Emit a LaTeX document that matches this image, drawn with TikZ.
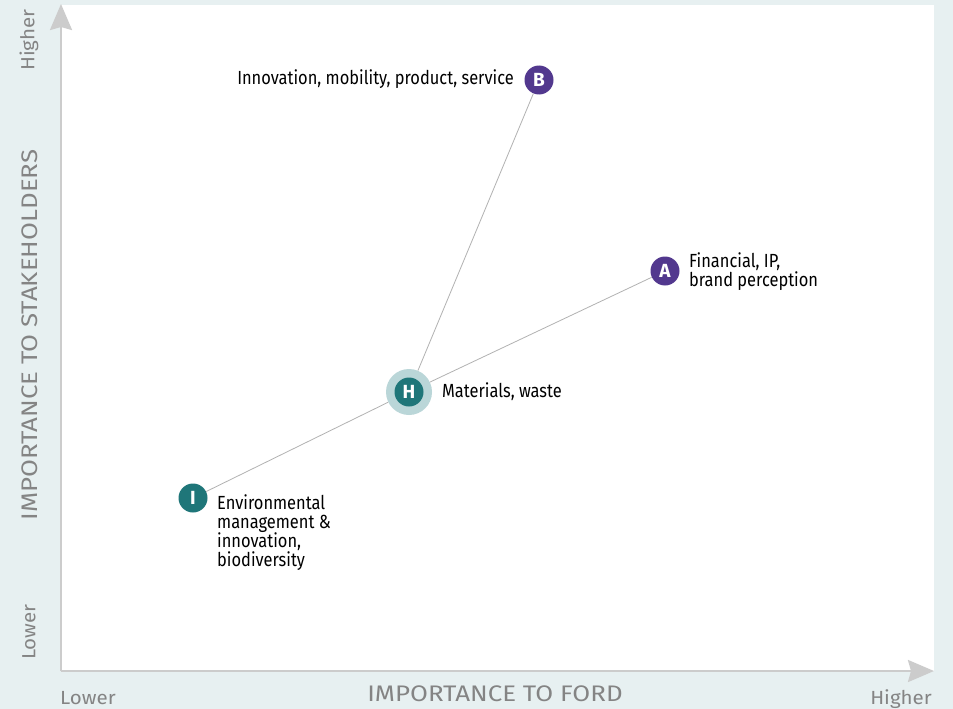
\documentclass[tikz,border=0pt]{standalone}
\usepackage{fontspec}
\setmainfont{Fira Sans}[FakeStretch=0.865]
\newfontfamily\axfont{Fira Sans}[FakeStretch=1.15]
\newfontfamily\endfont{Fira Sans}[FakeStretch=1.08]
\newfontfamily\dotfont{Fira Sans}
\usetikzlibrary{arrows.meta}
\definecolor{bgc}{RGB}{231,240,241}
\definecolor{axisc}{RGB}{204,204,204}
\definecolor{purpc}{RGB}{82,56,142}
\definecolor{tealc}{RGB}{31,118,121}
\definecolor{haloc}{RGB}{186,214,216}
\definecolor{connc}{RGB}{178,178,178}
\definecolor{axtext}{RGB}{132,132,132}
\tikzset{
  axisline/.style={draw=axisc, line width=2.4pt, -{Stealth[length=26pt,width=22pt,inset=3pt]}},
  conn/.style={draw=connc, line width=0.8pt},
  dot/.style={circle, minimum size=29pt, inner sep=0pt, text=white, font=\dotfont\bfseries\fontsize{19}{19}\selectfont},
  pdot/.style={dot, fill=purpc},
  tdot/.style={dot, fill=tealc},
  halo/.style={circle, fill=haloc, minimum size=46pt, inner sep=0pt},
  lbl/.style={inner sep=0pt, text=black, font=\fontsize{19}{19}\selectfont},
  axlbl/.style={inner sep=0pt, text=axtext, font=\axfont\fontsize{22.5}{22.5}\selectfont},
  endlbl/.style={inner sep=0pt, text=axtext, font=\endfont\fontsize{19}{19}\selectfont}
}
\begin{document}
\begin{tikzpicture}[x=1pt,y=-1pt]
\fill[bgc] (0,0) rectangle (953,709);
\fill[white] (61,5) rectangle (934,671);
\coordinate (O) at (61,671);
\coordinate (Ytop) at (61,4);
\coordinate (Xend) at (934,671);
\draw[axisline] (O) -- (Ytop);
\draw[axisline] (O) -- (Xend);
% nodes
\node[halo] (Hh) at (409,392) {};
\node[tdot] (H) at (409,392) {H};
\node[pdot] (B) at (539,80) {B};
\node[pdot] (A) at (665,271) {A};
\node[tdot] (I) at (193,498) {I};
% connectors
\draw[conn] (Hh) -- (B);
\draw[conn] (Hh) -- (A);
\draw[conn] (Hh) -- (I);
% labels
\node[lbl, anchor=east] (Bl) at (514,79) {Innovation, mobility, product, service};
\node[lbl, anchor=west, align=left] (Al) at (689,272) {Financial, IP,\\brand perception};
\node[lbl, anchor=west] (Hl) at (442,392) {Materials, waste};
\node[lbl, anchor=north west, align=left] (Il) at (217,494) {Environmental\\management \&\\innovation,\\biodiversity};
% axis labels
\node[axlbl, anchor=base] (xl) at (495,701) {IMPORTANCE TO FORD};
\node[axlbl, rotate=90, anchor=center] (yl) at (30,335) {IMPORTANCE TO STAKEHOLDERS};
\node[endlbl, anchor=base west] (xlo) at (60,704) {Lower};
\node[endlbl, anchor=base east] (xhi) at (932,704) {Higher};
\node[endlbl, rotate=90, anchor=center] (yhi) at (29,40) {Higher};
\node[endlbl, rotate=90, anchor=center] (ylo) at (29,632) {Lower};
\end{tikzpicture}
\end{document}
